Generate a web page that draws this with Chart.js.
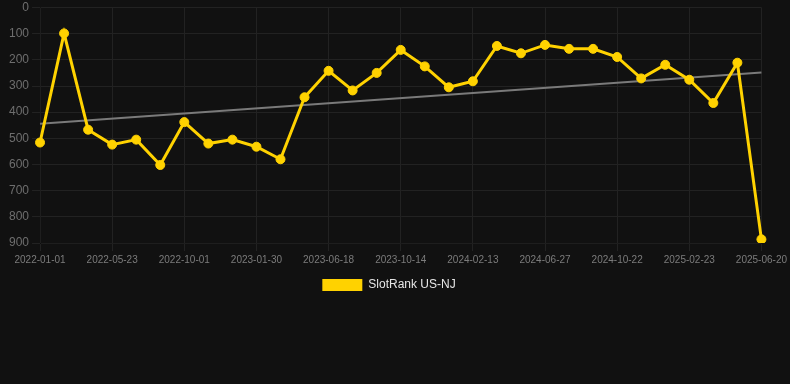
<!DOCTYPE html>
<html>
<head>
<meta charset="utf-8">
<script src="https://cdn.jsdelivr.net/npm/chart.js@4.4.1/dist/chart.umd.min.js"></script>
<style>
    body { margin: 0; background: #111111; }
    #wrap { width: 790px; height: 301px; }
</style>
</head>
<body>
<div id="wrap"><canvas id="rankChart"></canvas></div>
<script>
const dates = [
    '2022-01-01', '2022-02-17', '2022-04-06', '2022-05-23', '2022-07-03', '2022-08-17',
    '2022-10-01', '2022-11-10', '2022-12-20', '2023-01-30', '2023-03-17', '2023-05-02',
    '2023-06-18', '2023-07-29', '2023-09-06', '2023-10-14', '2023-11-23', '2024-01-03',
    '2024-02-13', '2024-03-30', '2024-05-13', '2024-06-27', '2024-08-08', '2024-09-15',
    '2024-10-22', '2024-12-05', '2025-01-14', '2025-02-23', '2025-04-03', '2025-05-12',
    '2025-06-20'
];
const ranks = [
    516, 99, 467, 524, 505, 602, 438, 520, 505, 532, 580,
    343, 242, 317, 250, 162, 225, 305, 282, 147, 175,
    143, 158, 158, 189, 271, 219, 276, 365, 211, 886
];
// trend line, only the two ends
const trend = [444].concat(new Array(29).fill(null), [248]);

// legend sits a little left of centre in the original
const legendShift = {
    id: 'legendShift',
    afterLayout(chart) {
        chart.legend.left -= 9;
        chart.legend.right -= 9;
    }
};

const ctx = document.getElementById('rankChart').getContext('2d');
const rankChart = new Chart(ctx, {
    type: 'line',
    data: {
        labels: dates,
        datasets: [
        {
            label: 'SlotRank US-NJ',
            data: ranks,
            borderColor: '#ffd200',
            backgroundColor: '#ffd200',
            borderWidth: 3,
            pointRadius: 4.5,
            pointBorderWidth: 1,
            pointHoverRadius: 6,
            tension: 0
        },
        {
            label: 'trend',
            data: trend,
            borderColor: '#7a7a7a',
            borderWidth: 2,
            pointRadius: 0,
            spanGaps: true
        }]
    },
    plugins: [legendShift],
    options: {
        maintainAspectRatio: false,
        animation: false,
        layout: {
            padding: { left: 6 }
        },
        scales: {
            x: {
                grid: {
                    color: '#222222'
                },
                ticks: {
                    autoSkip: false,
                    maxRotation: 0,
                    color: '#7c7c7c',
                    font: { family: 'Liberation Sans', size: 10 },
                    callback: (v, i) => i % 3 === 0 ? dates[i] : null
                }
            },
            y: {
                reverse: true,
                min: 0,
                max: 900,
                grid: {
                    color: '#222222'
                },
                ticks: {
                    stepSize: 100,
                    color: '#6e6e6e',
                    font: { family: 'Liberation Sans', size: 12, lineHeight: 0.75 }
                }
            }
        },
        plugins: {
            legend: {
                position: 'bottom',
                labels: {
                    color: '#e6e6e6',
                    boxHeight: 12,
                    font: { family: 'Liberation Sans', size: 12 },
                    filter: (item) => item.datasetIndex === 0,
                    generateLabels: (chart) => {
                        const items = Chart.defaults.plugins.legend.labels.generateLabels(chart);
                        items.forEach(it => { it.lineWidth = 0; });
                        return items;
                    }
                }
            },
            tooltip: { enabled: false }
        }
    }
});
</script>
</body>
</html>
